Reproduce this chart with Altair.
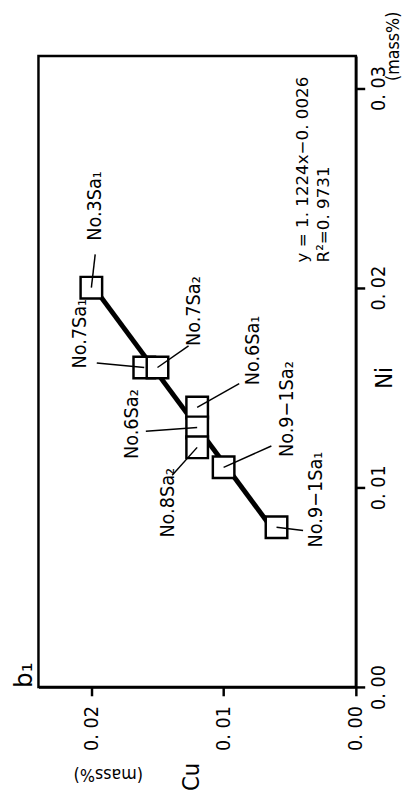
import altair as alt
import pandas as pd

# ---- data ----
samples = ["No.3Sa₁", "No.7Sa₁", "No.7Sa₂", "No.6Sa₁", "No.6Sa₂", "No.8Sa₂", "No.9−1Sa₂", "No.9−1Sa₁"]
ni_vals = [0.020, 0.016, 0.016, 0.014, 0.013, 0.012, 0.011, 0.008]
cu_vals = [0.020, 0.016, 0.015, 0.012, 0.012, 0.012, 0.010, 0.006]

# label anchor (start of rotated text) in data units
label_ni = [0.02235, 0.01595, 0.01708, 0.01511, 0.01142, 0.00748, 0.01152, 0.00699]
label_cu = [0.01924, 0.02043, 0.01181, 0.00736, 0.01649, 0.01375, 0.00476, 0.00253]

# leader line start (near label) in data units
leader_ni = [0.02167, 0.01623, 0.01708, 0.01519, 0.01281, 0.01060, 0.01207, 0.00784]
leader_cu = [0.01971, 0.01959, 0.01265, 0.00882, 0.01588, 0.01389, 0.00639, 0.00399]

# regression line end points
fit_ni = [0.008, 0.020]
fit_cu = [0.0064, 0.0198]

cu_ticks = [0.0, 0.01, 0.02]
ni_ticks = [0.0, 0.01, 0.02, 0.03]
equation_lines = ["y = 1. 1224x−0. 0026", "R²=0. 9731"]

NARROW = "Liberation Sans Narrow, Arial Narrow, DejaVu Sans Condensed, sans-serif"
PLAIN = "DejaVu Sans, sans-serif"

W, H = 323, 642

pts = pd.DataFrame({"name": samples, "Ni": ni_vals, "Cu": cu_vals,
                    "lNi": label_ni, "lCu": label_cu,
                    "dNi": leader_ni, "dCu": leader_cu})
fit = pd.DataFrame({"Ni": fit_ni, "Cu": fit_cu})

x_scale = alt.Scale(domain=[0, 0.024], reverse=True, nice=False, zero=False)
y_scale = alt.Scale(domain=[0, 0.0316], nice=False, zero=False)

label_expr = "replace(format(datum.value, '.2f'), '.', '. ')"

x_axis = alt.Axis(
    orient="bottom", values=cu_ticks, labelExpr=label_expr, grid=False,
    labelAngle=270, labelAlign="right", labelBaseline="middle",
    labelFont=NARROW, labelFontSize=20, labelPadding=10, labelColor="black",
    tickSize=9, tickWidth=2.5, tickColor="black",
    domainWidth=2.5, domainColor="black",
    title="Cu", titleAngle=270, titleX=156, titleY=91, titleAlign="center",
    titleBaseline="middle", titleFont=NARROW, titleFontSize=24,
    titleFontWeight="normal", titleColor="black",
)
y_axis = alt.Axis(
    orient="right", values=ni_ticks, labelExpr=label_expr, grid=False,
    labelAngle=270, labelAlign="center", labelBaseline="top",
    labelFont=NARROW, labelFontSize=20, labelPadding=4, labelColor="black",
    tickSize=9, tickWidth=2.5, tickColor="black",
    domainWidth=2.5, domainColor="black",
    title="Ni", titleAngle=270, titleX=29, titleY=327, titleAlign="center",
    titleBaseline="middle", titleFont=NARROW, titleFontSize=24,
    titleFontWeight="normal", titleColor="black",
)


def X(field):
    return alt.X(field, scale=x_scale, axis=x_axis)


def Y(field):
    return alt.Y(field, scale=y_scale, axis=y_axis)


line = alt.Chart(fit).mark_line(color="black", strokeWidth=5).encode(
    x=X("Cu:Q"), y=Y("Ni:Q"),
)

squares = alt.Chart(pts).mark_square(
    filled=True, fill="white", stroke="black", strokeWidth=2.5, size=480, opacity=1
).encode(x=X("Cu:Q"), y=Y("Ni:Q"))

leaders = alt.Chart(pts).mark_rule(color="black", strokeWidth=1.5).encode(
    x=X("dCu:Q"), y=Y("dNi:Q"), x2="Cu:Q", y2="Ni:Q",
)

labels = alt.Chart(pts).mark_text(
    angle=270, align="left", baseline="alphabetic",
    font=NARROW, fontSize=20, fontWeight=500, color="black"
).encode(x=X("lCu:Q"), y=Y("lNi:Q"), text="name:N")

eq1 = alt.Chart(pd.DataFrame({"t": [equation_lines[0]]})).mark_text(
    angle=270, align="left", baseline="alphabetic", font=PLAIN, fontSize=17, color="black"
).encode(x=alt.value(274), y=alt.value(210), text="t:N")
eq2 = alt.Chart(pd.DataFrame({"t": [equation_lines[1]]})).mark_text(
    angle=270, align="left", baseline="alphabetic", font=PLAIN, fontSize=17, color="black"
).encode(x=alt.value(296), y=alt.value(210), text="t:N")

unit_ni = alt.Chart(pd.DataFrame({"t": ["(mass%)"]})).mark_text(
    angle=270, align="center", baseline="middle", font=NARROW, fontSize=18, color="black"
).encode(x=alt.value(362), y=alt.value(-10), text="t:N")
unit_cu = alt.Chart(pd.DataFrame({"t": ["(mass%)"]})).mark_text(
    angle=180, align="center", baseline="middle", font=NARROW, fontSize=18, color="black"
).encode(x=alt.value(71), y=alt.value(730), text="t:N")
panel = alt.Chart(pd.DataFrame({"t": ["b₁"]})).mark_text(
    angle=270, align="left", baseline="middle", font=PLAIN, fontSize=25, color="black"
).encode(x=alt.value(-15), y=alt.value(643), text="t:N")

chart = alt.layer(line, squares, leaders, labels, eq1, eq2, unit_ni, unit_cu, panel).properties(
    width=W, height=H,
    background="white",
    autosize=alt.AutoSizeParams(type="none"),
    padding={"left": 31, "top": 42, "right": 50, "bottom": 100},
).configure_view(stroke="black", strokeWidth=2.5)

chart.save("out.html", embed_options={"renderer": "svg", "actions": False})
